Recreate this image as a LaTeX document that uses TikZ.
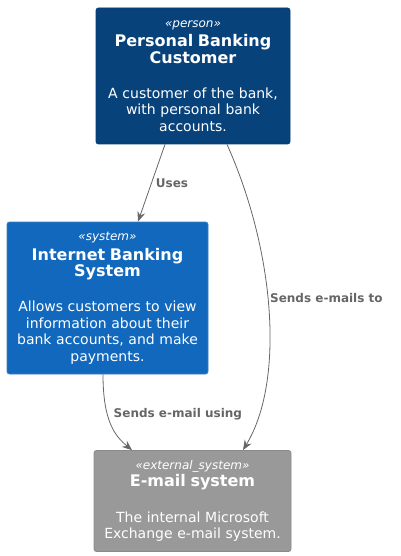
\documentclass[tikz,border=0pt]{standalone}
\usepackage{fontspec}
\setmainfont{DejaVu Sans}
\usetikzlibrary{arrows.meta}
\definecolor{personblue}{HTML}{08427B}
\definecolor{personline}{HTML}{073B6F}
\definecolor{sysblue}{HTML}{1168BD}
\definecolor{sysline}{HTML}{3C7FC0}
\definecolor{extgray}{HTML}{999999}
\definecolor{extline}{HTML}{8A8A8A}
\definecolor{relgray}{HTML}{666666}
\newcommand{\stereo}[1]{{\fontsize{12}{14}\selectfont\itshape «#1»}\\[1pt]}
\newcommand{\ttl}[1]{{\fontsize{16}{18.6}\selectfont\bfseries #1}\\[19pt]}
\newcommand{\desc}[1]{{\fontsize{14}{16.4}\selectfont #1}}

\begin{document}
\begin{tikzpicture}[%
        x=1pt, y=1pt,
        >={Stealth[length=10pt, width=8pt, inset=3.5pt]},
        font=\fontsize{14}{16.4}\selectfont,
    ]
    \tikzset{
        base/.style={draw, rounded corners=2.5pt, align=center, text=white, inner sep=0pt, line width=0.8pt},
        person/.style={base, fill=personblue, draw=personline, text width=180pt, minimum width=194pt, minimum height=136pt},
        system/.style={base, fill=sysblue, draw=sysline, text width=190pt, minimum width=201pt, minimum height=152pt},
        extsys/.style={base, fill=extgray, draw=extline, text width=190pt, minimum width=197pt, minimum height=101pt},
        % relation lines and their labels
        rel/.style={->, draw=relgray, line width=0.8pt},
        rellabel/.style={text=relgray, font=\fontsize{12}{14}\selectfont\bfseries, inner sep=2pt}
    }
    \useasboundingbox (0,0) rectangle (400,-556);
    %%% Blocks
    \node [person] (customer) at (193,-76) {
        \stereo{person}
        \ttl{Personal Banking\\Customer}
        \desc{A customer of the bank,\\with personal bank\\accounts.}
    };
    \node [system] (ibank) at (107.5,-298) {
        \stereo{system}
        \ttl{Internet Banking\\System}
        \desc{Allows customers to view\\information about their\\bank accounts, and make\\payments.}
    };
    \node [extsys] (mail) at (192.5,-501) {
        \stereo{external\_system}
        \ttl{E-mail system}
        \desc{The internal Microsoft\\Exchange e-mail system.}
    };
    %%% Connectors
    \draw [rel] ([xshift=-28pt]customer.south) -- ([xshift=30.5pt]ibank.north)
        node [rellabel, midway, right, xshift=2pt] {Uses};
    \draw [rel] ([xshift=34pt]customer.south)
        .. controls +(48,-107) and +(42,69) .. ([xshift=50.5pt]mail.north)
        node [rellabel, pos=0.46, right] {Sends e-mails to};
    \draw [rel] ([xshift=-4.5pt]ibank.south)
        .. controls +(0,-47) and +(-17,14) .. ([xshift=-60.5pt]mail.north)
        node [rellabel, pos=0.36, right, xshift=4pt] {Sends e-mail using};
\end{tikzpicture}
\end{document}
